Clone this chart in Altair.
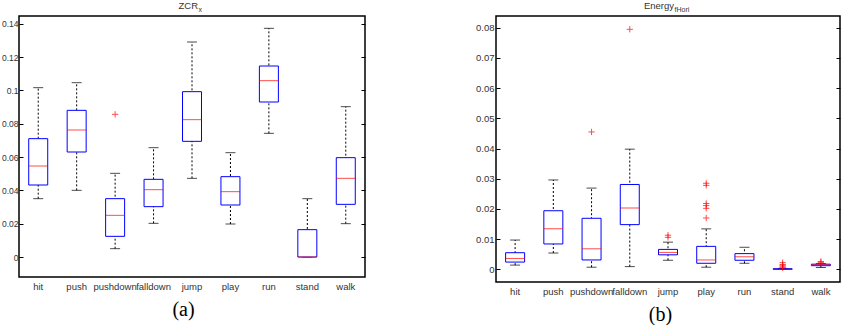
import altair as alt
import pandas as pd

categories = ["hit", "push", "pushdown", "falldown", "jump", "play", "run", "stand", "walk"]

# Panel (a): ZCR_x
zcr_lower = [0.035, 0.040, 0.005, 0.0202, 0.0472, 0.0198, 0.0742, 0.0, 0.020]
zcr_q1 = [0.0432, 0.063, 0.0124, 0.0302, 0.0694, 0.0312, 0.093, 0.0, 0.0316]
zcr_median = [0.0546, 0.0762, 0.025, 0.0404, 0.0824, 0.0392, 0.1058, 0.0, 0.0472]
zcr_q3 = [0.071, 0.088, 0.035, 0.0466, 0.0992, 0.0482, 0.1146, 0.0164, 0.0596]
zcr_upper = [0.1016, 0.1046, 0.0502, 0.0656, 0.129, 0.0626, 0.1372, 0.035, 0.0902]
zcr_out_cat = ["pushdown"]
zcr_out_val = [0.0856]
zcr_ticks = [0, 0.02, 0.04, 0.06, 0.08, 0.1, 0.12, 0.14]

# Panel (b): Energy_fHori
en_lower = [0.0014, 0.0054, 0.0007, 0.0009, 0.003, 0.0007, 0.002, 0.0, 0.0006]
en_q1 = [0.0024, 0.0084, 0.0031, 0.0148, 0.0048, 0.002, 0.003, 0.0, 0.0012]
en_median = [0.0036, 0.0134, 0.0068, 0.0203, 0.0056, 0.0031, 0.0042, 0.0, 0.0015]
en_q3 = [0.0055, 0.0194, 0.0169, 0.0281, 0.0066, 0.0076, 0.0052, 0.0002, 0.0017]
en_upper = [0.0097, 0.0296, 0.0269, 0.0398, 0.009, 0.0134, 0.0073, 0.0003, 0.0019]
en_out_cat = ["pushdown", "falldown", "jump", "jump", "play", "play", "play", "play", "play", "play",
              "stand", "stand", "stand", "stand", "stand", "walk", "walk"]
en_out_val = [0.0455, 0.0795, 0.0113, 0.0106, 0.0285, 0.0278, 0.0218, 0.0211, 0.0202, 0.0170,
              0.0022, 0.0016, 0.0012, 0.0008, 0.0005, 0.0026, 0.0023]
en_ticks = [0, 0.01, 0.02, 0.03, 0.04, 0.05, 0.06, 0.07, 0.08]

FONT = "Liberation Sans"
PLUS = "M-1,0L1,0M0,-1L0,1"
LABEL_COLOR = "#333333"


def panel(lower, q1, med, q3, upper, out_cat, out_val, ticks, domain, width, height,
          title_main, title_sub, caption, title_y, ylab_size, ylab_pad):
    df = pd.DataFrame({"cat": categories, "lower": lower, "q1": q1, "med": med, "q3": q3, "upper": upper})
    odf = pd.DataFrame({"cat": out_cat, "val": out_val})

    xenc = alt.X(
        "cat:N", sort=categories,
        scale=alt.Scale(paddingInner=0, paddingOuter=0),
        axis=alt.Axis(title=caption, ticks=False, domain=False, labelAngle=0, labelFont=FONT,
                      labelFontSize=9.5, labelColor=LABEL_COLOR, labelPadding=4,
                      titleFont="Liberation Serif", titleFontSize=20, titleFontWeight="normal",
                      titleColor="#000000", titlePadding=8.5, titleX=164, grid=False),
    )
    yscale = alt.Scale(domain=domain, nice=False, zero=False)
    y_left = alt.Axis(orient="left", values=ticks, format=".2~f", offset=-4, tickSize=4,
                      domain=False, grid=False, title=None, labelFont=FONT, labelFontSize=ylab_size,
                      labelColor=LABEL_COLOR, labelPadding=ylab_pad, tickColor="#000000")
    y_right = alt.Axis(orient="right", values=ticks, offset=-4, tickSize=4, domain=False,
                       grid=False, labels=False, title=None, tickColor="#000000")

    base = alt.Chart(df)
    whisk = base.mark_rule(strokeDash=[2, 2], color="#000000", strokeWidth=1).encode(
        x=xenc, y=alt.Y("lower:Q", scale=yscale, axis=y_left), y2="upper:Q")
    right_ax = base.mark_rule(opacity=0).encode(
        x=xenc, y=alt.Y("lower:Q", scale=yscale, axis=y_right), y2="upper:Q")
    cap_hi = base.mark_tick(size=10, thickness=1, color="#000000").encode(
        x=xenc, y=alt.Y("upper:Q", scale=yscale, axis=None))
    cap_lo = base.mark_tick(size=10, thickness=1, color="#000000").encode(
        x=xenc, y=alt.Y("lower:Q", scale=yscale, axis=None))
    box = base.mark_bar(size=19, fill="#ffffff", stroke="#0000ff", strokeWidth=1).encode(
        x=xenc, y=alt.Y("q1:Q", scale=yscale, axis=None), y2="q3:Q")
    median = base.mark_tick(size=19, thickness=1, color="#ff0000").encode(
        x=xenc, y=alt.Y("med:Q", scale=yscale, axis=None))
    outl = alt.Chart(odf).mark_point(shape=PLUS, size=40, filled=False, color="#ff0000",
                                     strokeWidth=1).encode(
        x=xenc, y=alt.Y("val:Q", scale=yscale, axis=None))

    t_main = alt.Chart(pd.DataFrame({"t": [title_main]})).mark_text(
        align="right", baseline="alphabetic", font=FONT, fontSize=9.5, color=LABEL_COLOR).encode(
        text="t:N", x=alt.value(width / 2 + 6), y=alt.value(title_y))
    t_sub = alt.Chart(pd.DataFrame({"t": [title_sub]})).mark_text(
        align="left", baseline="alphabetic", font=FONT, fontSize=7, color=LABEL_COLOR).encode(
        text="t:N", x=alt.value(width / 2 + 6.5), y=alt.value(title_y + 3))

    return alt.layer(whisk, right_ax, cap_hi, cap_lo, box, median, outl, t_main, t_sub).resolve_axis(
        y="independent").properties(width=width, height=height)


pa = panel(zcr_lower, zcr_q1, zcr_median, zcr_q3, zcr_upper, zcr_out_cat, zcr_out_val,
           zcr_ticks, [-0.012, 0.1446], 346, 261, "ZCR", "x", "(a)", -7, 8.5, 1)
pb = panel(en_lower, en_q1, en_median, en_q3, en_upper, en_out_cat, en_out_val,
           en_ticks, [-0.0042, 0.0839], 344, 266, "Energy", "fHori", "(b)", -7, 9.5, 2)

chart = alt.hconcat(pa, pb, spacing=107).configure_view(
    stroke="#000000", strokeWidth=1.5).properties(
    padding={"left": 0, "top": 0, "right": 0, "bottom": 0},
    autosize=alt.AutoSizeParams(type="pad"),
    background="#ffffff",
)

chart.save("out.html", embed_options={"renderer": "svg", "actions": False})
